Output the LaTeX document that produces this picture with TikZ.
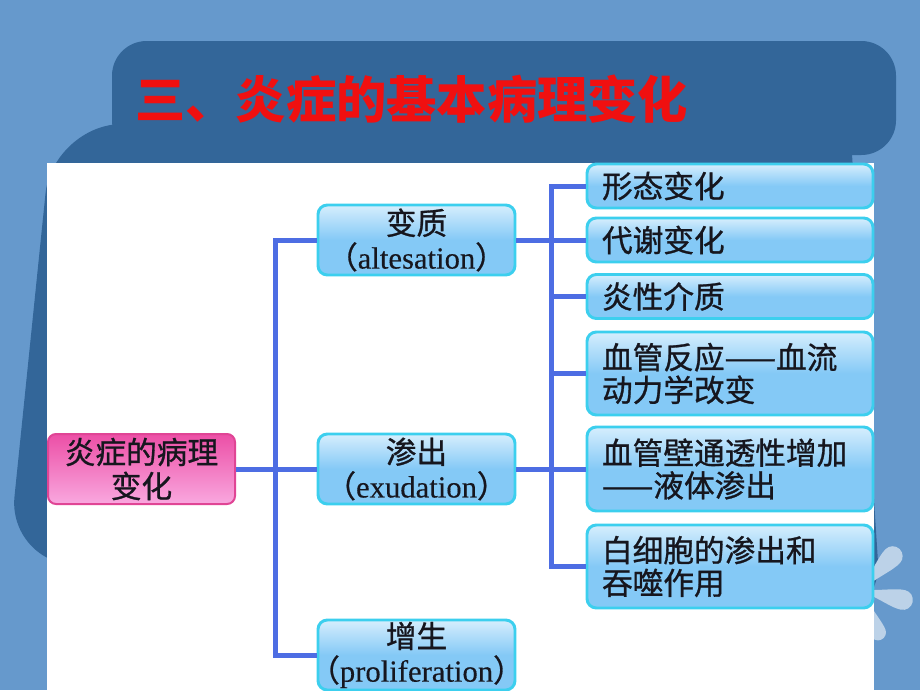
\documentclass[tikz,border=0pt]{standalone}
\usepackage{fontspec}
\setmainfont{Liberation Serif}[FakeBold=0.3]
\newfontfamily\cjk{Noto Sans CJK SC}[FakeBold=0.9]
\newfontfamily\cjkplain{Noto Sans CJK SC}
\definecolor{bglight}{HTML}{6699CC}
\definecolor{bgdark}{HTML}{336699}
\definecolor{petal}{HTML}{BCD2E8}
\definecolor{titlered}{HTML}{F01010}
\definecolor{boxblue}{HTML}{84C9F6}
\definecolor{boxhl}{HTML}{D6EEFD}
\definecolor{boxedge}{HTML}{3CCFEE}
\definecolor{pinktop}{HTML}{EC4FA6}
\definecolor{pinkbot}{HTML}{F9A8DF}
\definecolor{pinkedge}{HTML}{E04595}
\definecolor{lineblue}{HTML}{4D6DE3}
\definecolor{txt}{HTML}{16161E}
\begin{document}
\begin{tikzpicture}[x=0.75pt,y=-0.75pt,
  bluebox/.style={draw=boxedge, line width=2.2pt, rounded corners=7pt,
    top color=boxhl, bottom color=boxblue, middle color=boxblue, text=txt, inner sep=0pt},
  rootbox/.style={draw=pinkedge, line width=1.5pt, rounded corners=6pt,
    top color=pinktop, bottom color=pinkbot, text=txt, inner sep=0pt,
    minimum width=140.25pt, minimum height=52.5pt, align=center,
    font=\cjk\fontsize{23}{25.5}\selectfont},
  midbox/.style={bluebox, minimum width=147.75pt, minimum height=52.5pt, align=center,
    font=\cjk\fontsize{23}{25.5}\selectfont},
  leafbox/.style={bluebox, text width=192pt, inner xsep=11.25pt, align=left,
    font=\cjk\fontsize{23}{24.5}\selectfont},
  conn/.style={draw=lineblue, line width=3.75pt},
  petalshape/.style={fill=petal}
]
\useasboundingbox (0,0) rectangle (920,690);
\fill[bglight] (0,0) rectangle (920,690);
% big dark backdrop
\fill[bgdark, rounded corners=48pt] (52,130) -- (846,60) -- (882,625) -- (8,560) -- cycle;
% title backdrop
\fill[bgdark, rounded corners=26pt] (112,41) rectangle (896,155);
% petals
\foreach \ang/\len/\r in {46/57/10, -13/54/10, -67/54/8}{
  \begin{scope}[shift={(860,590)}, rotate=\ang]
    \fill[petalshape] (0,0) .. controls (0.45*\len, 0.5*\r) and (\len-2*\r, \r) .. (\len-\r, \r)
      arc[start angle=-90, end angle=90, radius=\r*0.75pt]
      .. controls (\len-2*\r, -\r) and (0.45*\len, -0.5*\r) .. (0,0) -- cycle;
  \end{scope}
}
% white panel
\fill[white] (47,163) rectangle (874,690);
% title
\node[anchor=west, text=titlered, inner sep=0pt,
  font=\cjkplain\bfseries\fontsize{37.7}{40}\selectfont] (title) at (135,99) {三、炎症的基本病理变化};
% nodes
\node[rootbox] (root) at (141.5,469) {炎症的病理\\变化};
\node[midbox] (alt) at (416.5,240) {变质\\\makebox[0pt]{（{\rmfamily altesation}）}};
\node[midbox] (exu) at (416.5,469) {渗出\\\makebox[0pt]{（{\rmfamily exudation}）}};
\node[midbox] (pro) at (416.5,655) {增生\\\makebox[0pt]{（{\rmfamily proliferation}）}};
\node[leafbox, minimum height=33pt] (l1) at (730,186) {形态变化};
\node[leafbox, minimum height=33pt] (l2) at (730,240) {代谢变化};
\node[leafbox, minimum height=33pt] (l3) at (730,296.5) {炎性介质};
\node[leafbox, minimum height=62.25pt] (l4) at (730,373.5) {血管反应——血流\\动力学改变};
\node[leafbox, minimum height=63pt] (l5) at (730,469) {血管壁通透性增加\\——液体渗出};
\node[leafbox, minimum height=62.25pt] (l6) at (730,566.5) {白细胞的渗出和\\吞噬作用};
% connectors
\draw[conn] (root.east) -- (exu.west);
\draw[conn] (alt.west) -- ++(-41,0) |- (pro.west);
\draw[conn] (alt.east) -- (l2.west);
\draw[conn] (exu.east) -- (l5.west);
\draw[conn] (l1.west) -- ++(-34,0) |- (l6.west);
\draw[conn] (l3.west) -- ++(-34,0);
\draw[conn] (l4.west) -- ++(-34,0);
\end{tikzpicture}
\end{document}
